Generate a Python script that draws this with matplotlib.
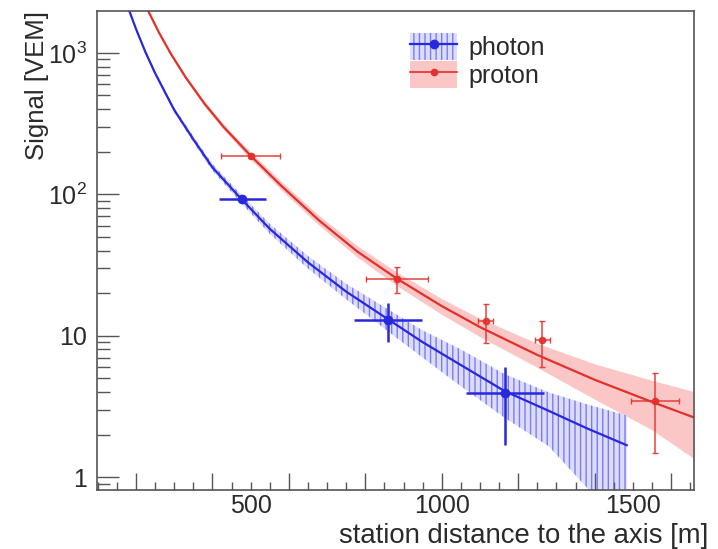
import matplotlib
matplotlib.use("Agg")
import numpy as np
import matplotlib.pyplot as plt
from matplotlib.ticker import FixedLocator, MultipleLocator, LogLocator, FuncFormatter, NullFormatter
from matplotlib.patches import Patch
from matplotlib.lines import Line2D
from matplotlib.legend_handler import HandlerTuple

# fitted LDF curves with their uncertainty bands
photon_fit_r = [180, 200, 225, 250, 300, 350, 400, 475, 550, 650, 750, 857, 950, 1050, 1165, 1280, 1380, 1484]
photon_fit_s = [2070, 1480, 1010, 720, 395, 245, 155, 93, 57, 33, 20.5, 13.2, 9.0, 6.2, 4.05, 2.94, 2.21, 1.68]
photon_band_hi = [2120, 1515, 1038, 742, 410, 257, 164, 99.7, 61.9, 36.6, 23.3, 15.5, 10.9, 8.0, 5.34, 3.97, 3.27, 2.73]
photon_band_lo = [2020, 1445, 983, 699, 381, 234, 147, 86.8, 52.5, 29.8, 18.1, 10.85, 7.0, 4.39, 2.62, 1.65, 0.84, 0.42]

proton_fit_r = [232, 260, 290, 330, 380, 430, 500, 580, 680, 780, 883, 1000, 1100, 1250, 1400, 1550, 1660]
proton_fit_s = [1982, 1396, 999, 672, 435, 298, 187.5, 115, 65, 39.2, 25.3, 16.2, 11.5, 7.31, 4.88, 3.4, 2.64]
proton_band_hi = [2019, 1429, 1027, 694, 452, 312, 198.6, 123.2, 70.4, 43.0, 28.0, 18.2, 13.2, 8.77, 6.29, 4.80, 4.0]
proton_band_lo = [1946, 1364, 971, 651, 418, 285, 177, 107.3, 60.0, 35.7, 22.5, 14.1, 9.8, 5.94, 3.54, 2.15, 1.35]

# station signals
photon_r = [478, 859, 1165]
photon_r_err = [61, 89, 102]
photon_s = [93, 12.9, 3.95]
photon_s_lo = [89, 9.06, 1.68]
photon_s_hi = [97, 17.0, 6.0]

proton_r = [500, 883, 1115, 1263, 1558]
proton_r_err = [78, 80, 19, 20, 63]
proton_s = [187.5, 25.0, 12.7, 9.3, 3.44]
proton_s_lo = [181, 19.9, 8.87, 6.03, 1.48]
proton_s_hi = [194, 30.8, 16.7, 12.8, 5.46]

BLUE = "#2828dc"
RED = "#e2302a"
BLUE_FILL = "#dcdcff"
BLUE_HATCH = "#7c7cf0"
RED_FILL = "#fbc6c6"
TEXT = "#2a2a2a"
FRAME = "#555555"

plt.rcParams["font.family"] = ["Liberation Sans", "DejaVu Sans"]
plt.rcParams["mathtext.fontset"] = "custom"
plt.rcParams["mathtext.rm"] = "Liberation Sans"
plt.rcParams["hatch.linewidth"] = 1.0
plt.rcParams["hatch.color"] = BLUE_HATCH

fig = plt.figure(figsize=(7.18, 5.49), dpi=100)
ax = fig.add_axes([97 / 718, 1 - 490 / 549, 597 / 718, 479 / 549])

# bands
ax.fill_between(proton_fit_r, proton_band_lo, proton_band_hi, facecolor=RED_FILL, lw=0)
ax.fill_between(photon_fit_r, photon_band_lo, photon_band_hi, facecolor=BLUE_FILL, lw=0)
ax.fill_between(photon_fit_r, photon_band_lo, photon_band_hi, facecolor="none",
                edgecolor=BLUE_HATCH, hatch="|||", lw=0)

# fit lines
ax.plot(photon_fit_r, photon_fit_s, color=BLUE, lw=1.6)
ax.plot(proton_fit_r, proton_fit_s, color=RED, lw=1.6)

# points
ph_s = np.array(photon_s)
ax.errorbar(photon_r, ph_s, xerr=photon_r_err,
            yerr=[ph_s - np.array(photon_s_lo), np.array(photon_s_hi) - ph_s],
            fmt="o", color=BLUE, ms=6, elinewidth=1.8, capsize=0, zorder=5)
pr_s = np.array(proton_s)
ax.errorbar(proton_r, pr_s, xerr=proton_r_err,
            yerr=[pr_s - np.array(proton_s_lo), np.array(proton_s_hi) - pr_s],
            fmt="o", color=RED, ms=4.5, elinewidth=1.1, capsize=2.5, capthick=1.0,
            alpha=0.9, zorder=5)

ax.set_yscale("log")
ax.set_xlim(98, 1660)
ax.set_ylim(0.81, 1980)

# y axis: decades labelled ROOT style
def decade_label(v, pos):
    if v < 5:
        return "1"
    if v < 50:
        return "10"
    return r"$10^{%d}$" % int(round(np.log10(v)))

ax.yaxis.set_major_locator(FixedLocator([1, 10, 100, 1000]))
ax.yaxis.set_major_formatter(FuncFormatter(decade_label))
ax.yaxis.set_minor_locator(LogLocator(subs=np.arange(2, 10)))
ax.yaxis.set_minor_formatter(NullFormatter())
ax.tick_params(axis="y", which="major", direction="in", length=16, width=1.0,
               color=FRAME, labelsize=18, labelcolor=TEXT, pad=7, right=False)
ax.tick_params(axis="y", which="minor", direction="in", length=9, width=1.0,
               color=FRAME, right=False)

# x axis: ticks every 200 m (long) and 50 m (short), labels at 500 m steps
ax.xaxis.set_major_locator(MultipleLocator(200))
ax.xaxis.set_major_formatter(NullFormatter())
ax.xaxis.set_minor_locator(MultipleLocator(50))
ax.tick_params(axis="x", which="major", direction="in", length=12, width=1.0,
               color=FRAME, top=False)
ax.tick_params(axis="x", which="minor", direction="in", length=6, width=1.0,
               color=FRAME, top=False)

secax = ax.secondary_xaxis("bottom")
secax.set_xticks([500, 1000, 1500])
secax.tick_params(length=0, labelsize=18, labelcolor=TEXT, pad=3)
secax.spines["bottom"].set_visible(False)

for sp in ax.spines.values():
    sp.set_color(FRAME)
    sp.set_linewidth(1.2)

ax.set_xlabel("station distance to the axis [m]", fontsize=19.8, color=TEXT, ha="right")
ax.xaxis.set_label_coords(1.0235, -0.095)
ax.xaxis.label.set_va("center")
ax.set_ylabel("Signal [VEM]", fontsize=18.5, color=TEXT, loc="top")
ax.yaxis.set_label_coords(-0.08, 1.0)

# legend
ph_patch = Patch(facecolor=BLUE_FILL, edgecolor=BLUE_HATCH, hatch="|||", lw=0)
ph_line = Line2D([], [], color=BLUE, lw=1.6, marker="o", ms=6)
pr_patch = Patch(facecolor=RED_FILL, lw=0)
pr_line = Line2D([], [], color=RED, lw=1.2, marker="o", ms=4.5)
ax.legend([(ph_patch, ph_line), (pr_patch, pr_line)], ["photon", "proton"],
          handler_map={tuple: HandlerTuple(ndivide=1)},
          loc="upper left", bbox_to_anchor=(0.524, 0.955), frameon=False,
          fontsize=18, handlelength=1.9, handleheight=1.3, handletextpad=0.45,
          labelspacing=0.05, borderpad=0, borderaxespad=0, labelcolor=TEXT)

fig.savefig("out.png", dpi=100)
